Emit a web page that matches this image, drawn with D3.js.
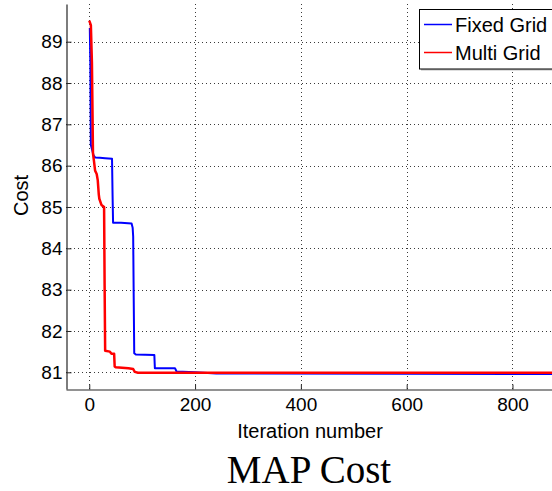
<!DOCTYPE html>
<html>
<head>
<meta charset="utf-8">
<script src="https://cdn.jsdelivr.net/npm/d3@7"></script>
<style>
  html, body { margin: 0; padding: 0; background: #fff; }
  svg { display: block; }
</style>
</head>
<body>
<script>
// Convergence of the MAP cost for the two optimisation schemes
const fixedIter = [1, 2, 3, 8, 11, 20, 30, 43, 44, 45, 60, 80, 82, 83, 84, 85, 88, 123, 124, 162, 165, 200, 240, 600, 880];
const fixedCost = [89.33, 88.5, 86.5, 86.25, 86.2, 86.19, 86.18, 86.17, 85.3, 84.62, 84.62, 84.6, 84.5, 84.28, 82.8, 81.46, 81.43, 81.42, 81.1, 81.1, 81.02, 81.0, 80.97, 80.965, 80.96];

const multiIter = [0, 3, 5, 6, 7, 9, 11, 14, 16, 18, 19, 23, 28, 29, 30, 39, 42, 47, 48, 50, 74, 83, 86, 92, 880];
const multiCost = [89.51, 89.4, 88.5, 87.4, 86.3, 86.1, 85.88, 85.8, 85.65, 85.3, 85.2, 85.05, 85.0, 83.1, 81.52, 81.5, 81.45, 81.45, 81.14, 81.12, 81.1, 81.08, 81.01, 80.99, 80.99];

const seriesNames = ["Fixed Grid", "Multi Grid"];
const seriesColors = ["#0000ff", "#ff0000"];
const xTicks = [0, 200, 400, 600, 800];
const yTicks = [81, 82, 83, 84, 85, 86, 87, 88, 89];
const xLabel = "Iteration number";
const yLabel = "Cost";
const title = "MAP Cost";

const W = 552, H = 491;
const plot = { left: 66, right: 554, top: 4, bottom: 389 };

const svg = d3.select("body").append("svg")
  .attr("width", W).attr("height", H)
  .style("font-family", "'Liberation Sans', Arial, Helvetica, sans-serif");

const x = d3.scaleLinear().domain([-44, 878.5]).range([plot.left, plot.right]);
const y = d3.scaleLinear().domain([80.596, 89.912]).range([plot.bottom, plot.top]);

svg.append("defs").append("clipPath").attr("id", "plotclip")
  .append("rect")
  .attr("x", plot.left).attr("y", plot.top)
  .attr("width", plot.right - plot.left).attr("height", plot.bottom - plot.top);

// dotted grid
const grid = svg.append("g").attr("stroke", "#3a3a3a").attr("stroke-width", 1)
  .attr("stroke-dasharray", "1,3").attr("fill", "none");
grid.selectAll("line.gx").data(xTicks).join("line")
  .attr("x1", d => Math.round(x(d)) + 0.5).attr("x2", d => Math.round(x(d)) + 0.5)
  .attr("y1", plot.bottom).attr("y2", plot.top);
grid.selectAll("line.gy").data(yTicks).join("line")
  .attr("y1", d => Math.round(y(d)) + 0.5).attr("y2", d => Math.round(y(d)) + 0.5)
  .attr("x1", plot.left).attr("x2", plot.right);

// cost curves
const line = d3.line().x(d => x(d[0])).y(d => y(d[1]));
const series = [
  d3.zip(fixedIter, fixedCost),
  d3.zip(multiIter, multiCost)
];
const widths = [2, 2.5];
const curves = svg.append("g").attr("clip-path", "url(#plotclip)");
series.forEach((pts, i) => {
  curves.append("path")
    .datum(pts)
    .attr("d", line)
    .attr("fill", "none")
    .attr("stroke", seriesColors[i])
    .attr("stroke-width", widths[i])
    .attr("stroke-linejoin", "round");
});

// axes with inward ticks
const xAxis = d3.axisBottom(x).tickValues(xTicks).tickSizeInner(-5).tickSizeOuter(0).tickPadding(8);
const yAxis = d3.axisLeft(y).tickValues(yTicks).tickSizeInner(-5).tickSizeOuter(0).tickPadding(4);

const gx = svg.append("g").attr("transform", `translate(0,${plot.bottom + 0.5})`).call(xAxis);
const gy = svg.append("g").attr("transform", `translate(${plot.left + 0.5},0)`).call(yAxis);
[gx, gy].forEach(g => {
  g.select(".domain").attr("stroke", "#262626").attr("stroke-width", 1.2);
  g.selectAll(".tick line").attr("stroke", "#262626");
  g.selectAll(".tick text").attr("fill", "#000")
    .style("font-size", "19px")
    .style("font-family", "'Liberation Sans', Arial, Helvetica, sans-serif");
});

// axis labels
svg.append("text")
  .attr("x", 310).attr("y", 438)
  .attr("text-anchor", "middle")
  .style("font-size", "20px")
  .text(xLabel);

svg.append("text")
  .attr("transform", "translate(28,195.5) rotate(-90)")
  .attr("text-anchor", "middle")
  .style("font-size", "20px")
  .text(yLabel);

// title below the axes
svg.append("text")
  .attr("x", 309).attr("y", 482.5)
  .attr("text-anchor", "middle")
  .style("font-family", "'Liberation Serif', 'Times New Roman', serif")
  .style("font-size", "39px")
  .text(title);

// legend
const lg = svg.append("g");
lg.append("rect")
  .attr("x", 421).attr("y", 11).attr("width", 140).attr("height", 59.5)
  .attr("fill", "#bdbdbd");
lg.append("rect")
  .attr("x", 419.5).attr("y", 9.5).attr("width", 140).attr("height", 59.5)
  .attr("fill", "#fff").attr("stroke", "#000").attr("stroke-width", 1);
const rows = [24, 52];
seriesNames.forEach((name, i) => {
  lg.append("line")
    .attr("x1", 424).attr("x2", 452)
    .attr("y1", rows[i] + 0.5).attr("y2", rows[i] + 0.5)
    .attr("stroke", seriesColors[i]).attr("stroke-width", 1.5);
  lg.append("text")
    .attr("x", 455).attr("y", rows[i] + 7.5)
    .style("font-size", "20px")
    .text(name);
});
</script>
</body>
</html>
